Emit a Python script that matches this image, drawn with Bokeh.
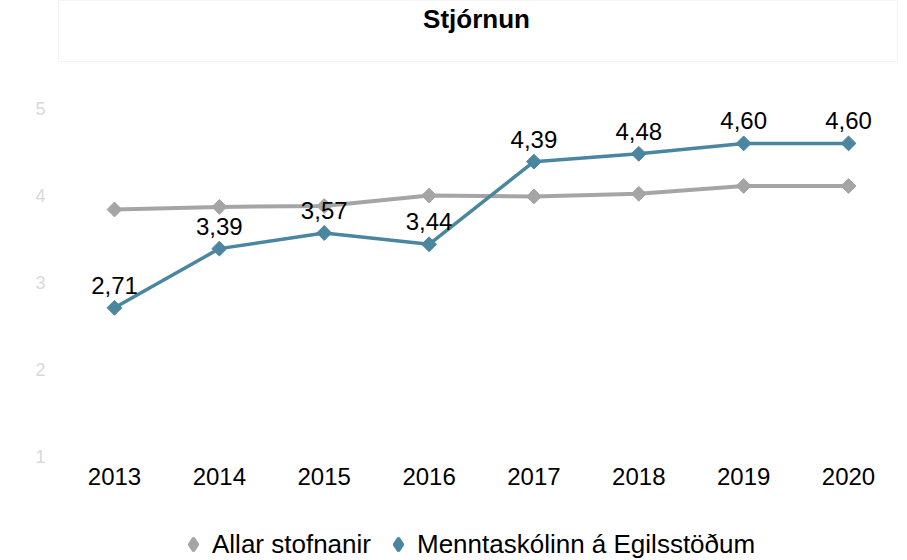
import math
from bokeh.plotting import figure
from bokeh.layouts import column
from bokeh.models import ColumnDataSource, Legend, LegendItem, FixedTicker, Range1d, LabelSet, Label
from bokeh.core.properties import value
from bokeh.embed import file_html
from bokeh.resources import INLINE

title_text = "Stjórnun"
years = [2013, 2014, 2015, 2016, 2017, 2018, 2019, 2020]
allar = [3.84, 3.87, 3.88, 4.00, 3.99, 4.02, 4.11, 4.11]
me = [2.71, 3.39, 3.57, 3.44, 4.39, 4.48, 4.60, 4.60]
me_labels = ["2,71", "3,39", "3,57", "3,44", "4,39", "4,48", "4,60", "4,60"]
series_names = ["Allar stofnanir", "Menntaskólinn á Egilsstöðum"]
y_ticks = [1, 2, 3, 4, 5]

GRAY = "#a5a5a5"
BLUE = "#4a86a0"
FONT = "Liberation Sans"
ANG = math.pi / 4
W = 907


def strip(height):
    f = figure(width=W, height=height, output_backend="svg", toolbar_location=None,
               x_axis_location=None, y_axis_location=None,
               x_range=Range1d(0, 1), y_range=Range1d(0, 1))
    f.min_border_left = 0
    f.min_border_right = 0
    f.min_border_top = 0
    f.min_border_bottom = 0
    f.grid.visible = False
    f.outline_line_color = None
    return f


# title strip with faint box (frame is aligned to the main chart's frame: left 58)
ts = strip(62)
ts.outline_line_color = "#f5f5f5"
ts.outline_line_width = 1
ts.add_layout(Label(x=418, y=44, x_units="screen", y_units="screen", text=title_text,
                    text_align="center", text_baseline="alphabetic", text_font=FONT,
                    text_font_size="26px", text_font_style="bold", text_color="#000000"))

# main chart
p = figure(width=W, height=446, output_backend="svg", toolbar_location=None,
           x_range=Range1d(2012.466, 2020.467), y_range=Range1d(1, 5.3))
p.min_border_left = 58
p.min_border_right = 10
p.min_border_top = 20
p.min_border_bottom = 52
p.outline_line_color = None
p.grid.visible = False

p.xaxis.ticker = FixedTicker(ticks=years)
p.yaxis.ticker = FixedTicker(ticks=y_ticks)
for ax in (p.xaxis, p.yaxis):
    ax.axis_line_color = None
    ax.major_tick_line_color = None
    ax.minor_tick_line_color = None
    ax.major_tick_out = 0
    ax.major_tick_in = 0
    ax.minor_tick_out = 0
    ax.major_label_text_font = FONT
p.xaxis.major_label_text_font_size = "24px"
p.xaxis.major_label_text_color = "#000000"
p.xaxis.major_label_standoff = 11
p.yaxis.major_label_text_font_size = "18px"
p.yaxis.major_label_text_color = "#d9d9d9"
p.yaxis.major_label_standoff = 13

src = ColumnDataSource(dict(x=years, allar=allar, me=me, lab=me_labels))

p.line("x", "allar", source=src, line_color=GRAY, line_width=4)
p.scatter("x", "allar", source=src, marker="square", size=10.5, angle=ANG,
          fill_color=GRAY, line_color=GRAY)
p.line("x", "me", source=src, line_color=BLUE, line_width=3.5)
p.scatter("x", "me", source=src, marker="square", size=10.5, angle=ANG,
          fill_color=BLUE, line_color=BLUE)

labels = LabelSet(x="x", y="me", text="lab", source=src, text_align="center",
                  text_baseline="alphabetic", y_offset=14, text_font=value(FONT),
                  text_font_size=value("24px"), text_color="#000000")
p.add_layout(labels)

# legend strip (series drawn off-range, only their legend glyphs show)
lg = strip(52)
d1 = lg.scatter("x", "allar", source=src, marker="diamond", line_width=3,
                fill_color=GRAY, line_color=GRAY)
d2 = lg.scatter("x", "me", source=src, marker="diamond", line_width=3,
                fill_color=BLUE, line_color=BLUE)
legend = Legend(items=[LegendItem(label=series_names[0], renderers=[d1]),
                       LegendItem(label=series_names[1], renderers=[d2])],
                orientation="horizontal", location=(119, 0),
                label_text_font=FONT, label_text_font_size="26px",
                label_text_color="#000000", glyph_width=32, glyph_height=32,
                label_standoff=3, spacing=11, border_line_color=None,
                background_fill_alpha=0, margin=0, padding=0)
lg.add_layout(legend)

layout = column(ts, p, lg, spacing=0)
open("out.html", "w").write(file_html(layout, INLINE))
